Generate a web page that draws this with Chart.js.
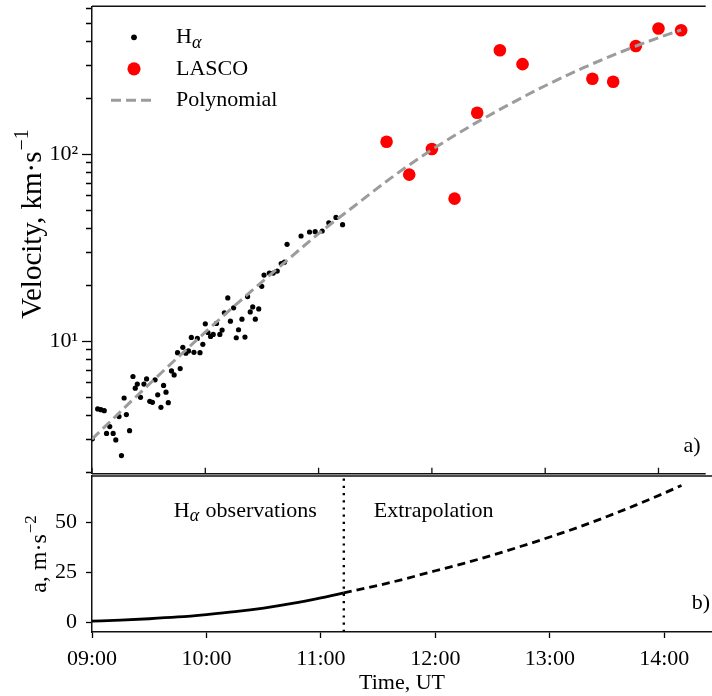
<!DOCTYPE html>
<html>
<head>
<meta charset="utf-8">
<title>Velocity and acceleration</title>
<script src="https://cdn.jsdelivr.net/npm/chart.js@4.4.1/dist/chart.umd.min.js"></script>
<style>
  html, body { margin: 0; padding: 0; background: #fff; }
  #page { position: relative; width: 712px; height: 696px; overflow: hidden; }
  canvas { position: absolute; left: 0; }
  #velChart { top: 0; }
  #accChart { top: 470px; }
</style>
</head>
<body>
<div id="page">
  <canvas id="velChart" width="712" height="480"></canvas>
  <canvas id="accChart" width="712" height="226"></canvas>
</div>
<script>
// time axis: minutes after 09:00 UT
const hourTicks = [0, 60, 120, 180, 240, 300];
const hourLabels = ['09:00', '10:00', '11:00', '12:00', '13:00', '14:00'];
const timeMin = 0, timeMax = 325;

// H-alpha velocities (km/s)
const haTime = [0.2, 3.0, 4.7, 6.5, 7.7, 9.4, 11.2, 12.6, 14.3, 15.6,
    17.0, 18.2, 19.9, 21.7, 22.9, 24.0, 25.7, 27.5, 28.9, 30.6,
    32.0, 33.4, 34.8, 36.5, 37.9, 39.2, 40.4, 42.1, 43.5, 45.3,
    46.7, 48.1, 49.7, 51.1, 52.6, 54.0, 55.8, 57.2, 58.7, 60.0,
    61.4, 62.8, 64.2, 65.9, 67.7, 68.9, 70.1, 71.9, 73.3, 75.0,
    76.4, 77.6, 79.4, 81.0, 82.4, 83.8, 85.1, 86.5, 88.3, 89.9,
    91.1, 93.9, 96.0, 98.1, 100.2, 101.9, 103.3, 110.7, 115.2, 118.2,
    121.9, 125.4, 129.2, 132.7];
const haVel = [3.01, 4.35, 4.31, 4.26, 3.22, 3.50, 3.22, 2.97, 3.96, 2.45,
    4.98, 4.06, 3.33, 6.49, 5.62, 5.91, 5.02, 5.91, 6.30, 4.78,
    4.72, 6.23, 5.18, 4.44, 5.81, 5.35, 4.70, 6.95, 6.62, 8.70,
    7.15, 9.29, 8.64, 8.89, 10.5, 8.74, 10.37, 8.70, 9.64, 12.42,
    11.16, 10.63, 10.90, 12.47, 10.90, 11.49, 14.21, 17.08, 12.83, 15.11,
    10.46, 11.54, 13.15, 10.54, 17.36, 14.38, 15.29, 13.15, 14.92, 19.70,
    22.63, 23.19, 23.19, 23.76, 26.10, 26.53, 33.07, 36.63, 38.47, 38.63,
    38.95, 43.12, 46.04, 42.09];

// LASCO velocities (km/s)
const lascoTime = [156, 168, 180, 192, 204, 216, 228, 265, 276, 288, 300, 312];
const lascoVel = [117, 78, 107, 58, 167, 361, 304, 254, 245, 380, 472, 462];

// polynomial fit (km/s)
const fitTime = [0, 20, 40, 60, 80, 100, 120, 140, 160, 180, 200, 220, 240, 260, 280, 300, 312];
const fitVel = [3.0, 4.7, 7.3, 11.2, 17.0, 25.4, 37.7, 54, 77, 106, 141, 183, 233, 290, 353, 421, 463];

// acceleration (m/s^2), observed part and extrapolation
const splitTime = 132;
const accObsTime = [0, 15, 30, 45, 60, 75, 90, 105, 120, 132];
const accObs = [0.7, 1.2, 1.9, 2.8, 4.0, 5.4, 7.2, 9.5, 12.3, 14.8];
const accExtTime = [132, 150, 165, 180, 195, 210, 225, 240, 255, 270, 285, 300, 309];
const accExt = [14.8, 18.5, 22, 25.8, 29.5, 33.6, 38, 42.6, 47.5, 52.8, 58.5, 64.5, 68.3];

// axis ranges and ticks
const velMin = 1.96, velMax = 620;
const velTicks = [2, 3, 4, 5, 6, 7, 8, 9, 10, 20, 30, 40, 50, 60, 70, 80, 90, 100, 200, 300, 400, 500, 600];
const velMajor = [10, 100];
const velMajorLabels = ['10¹', '10²'];
const accMin = -4.7, accMax = 73;
const accTicks = [0, 25, 50];

// axis titles: [text, superscript]
const velTitle = ['Velocity, km·s', '−1'];
const accTitle = ['a, m·s', '−2'];

const serif = '"Liberation Serif", "Times New Roman", serif';
Chart.defaults.font.family = serif;
Chart.defaults.font.size = 22;
Chart.defaults.color = '#000';

function toXY(xs, ys) {
    return xs.map((x, i) => ({x: x, y: ys[i]}));
}

// no extra room for the first/last tick labels
function noPad(s) {
    s.paddingTop = 0;
    s.paddingBottom = 0;
    s.paddingLeft = 0;
    s.paddingRight = 0;
}

// text with an italic subscript alpha, e.g. "Hα"
function drawAlphaText(ctx, text, x, y, size, align) {
    const k = text.indexOf('α');
    const main = size + 'px ' + serif;
    const sub = 'italic ' + Math.round(size * 0.8) + 'px ' + serif;
    ctx.textBaseline = 'middle';
    ctx.textAlign = 'left';
    let pre = k < 0 ? text : text.slice(0, k);
    let post = k < 0 ? '' : text.slice(k + 1);
    ctx.font = main;
    let w = ctx.measureText(pre).width + ctx.measureText(post).width;
    if (k >= 0) {
        ctx.font = sub;
        w += ctx.measureText('α').width + 1;
    }
    if (align === 'right') x -= w;
    ctx.font = main;
    ctx.fillText(pre, x, y);
    if (k < 0) return;
    x += ctx.measureText(pre).width;
    ctx.font = sub;
    ctx.fillText('α', x, y + size * 0.25);
    x += ctx.measureText('α').width + 1;
    ctx.font = main;
    ctx.fillText(post, x, y);
}

// rotated axis title with a raised exponent
function drawAxisTitle(ctx, parts, cx, cy, size) {
    const main = size + 'px ' + serif;
    const sup = Math.round(size * 0.7) + 'px ' + serif;
    ctx.save();
    ctx.translate(cx, cy);
    ctx.rotate(-Math.PI / 2);
    ctx.fillStyle = '#000';
    ctx.textBaseline = 'middle';
    ctx.textAlign = 'left';
    ctx.font = main;
    const w1 = ctx.measureText(parts[0]).width;
    ctx.font = sup;
    const w2 = ctx.measureText(parts[1]).width;
    const x = -(w1 + w2 + 1) / 2;
    ctx.font = main;
    ctx.fillText(parts[0], x, 0);
    ctx.font = sup;
    ctx.fillText(parts[1], x + w1 + 1, -size * 0.36);
    ctx.restore();
}

// frame lines, inward time ticks, panel letter and y title
const framePlugin = {
    id: 'frame',
    afterDatasetsDraw(chart, args, opts) {
        const ctx = chart.ctx, a = chart.chartArea;
        ctx.save();
        ctx.strokeStyle = '#111';
        ctx.lineWidth = 1.5;
        ctx.beginPath();
        ctx.moveTo(a.left, a.top);
        ctx.lineTo(a.right, a.top);
        if (opts.bottomLine) {
            ctx.moveTo(a.left, a.bottom);
            ctx.lineTo(a.right, a.bottom);
        }
        ctx.stroke();
        if (opts.innerTicks) {
            const xs = chart.scales.x;
            ctx.lineWidth = 1.3;
            ctx.beginPath();
            hourTicks.forEach(t => {
                const px = xs.getPixelForValue(t);
                ctx.moveTo(px, a.bottom);
                ctx.lineTo(px, a.bottom - 6);
            });
            ctx.stroke();
        }
        ctx.fillStyle = '#000';
        ctx.font = '22px ' + serif;
        ctx.textAlign = 'right';
        ctx.textBaseline = 'middle';
        ctx.fillText(opts.panel, a.right - opts.panelDx, a.bottom - opts.panelDy);
        ctx.restore();
        drawAxisTitle(ctx, opts.title, opts.titleX, (a.top + a.bottom) / 2 + opts.titleDy, opts.titleSize);
    }
};

// legend inside the upper panel
const legendPlugin = {
    id: 'innerLegend',
    afterDraw(chart) {
        const ctx = chart.ctx, a = chart.chartArea;
        const cx = a.left + 42;
        ctx.save();
        chart.data.datasets.forEach((ds, i) => {
            const y = a.top + 31 + i * 31.5;
            if (ds.showLine) {
                ctx.strokeStyle = ds.borderColor;
                ctx.lineWidth = ds.borderWidth;
                ctx.setLineDash(ds.borderDash);
                ctx.beginPath();
                ctx.moveTo(cx - 23, y);
                ctx.lineTo(cx + 22, y);
                ctx.stroke();
                ctx.setLineDash([]);
            } else {
                ctx.fillStyle = ds.backgroundColor;
                ctx.beginPath();
                ctx.arc(cx, y, ds.pointRadius + 0.3, 0, Math.PI * 2);
                ctx.fill();
            }
            ctx.fillStyle = '#000';
            drawAlphaText(ctx, ds.label, a.left + 84, y, 22);
        });
        ctx.restore();
    }
};

// region labels in the lower panel
const regionPlugin = {
    id: 'regions',
    afterDraw(chart) {
        const ctx = chart.ctx, a = chart.chartArea;
        const sx = chart.scales.x.getPixelForValue(splitTime);
        ctx.save();
        ctx.fillStyle = '#000';
        drawAlphaText(ctx, 'Hα observations', sx - 27, a.top + 35, 22, 'right');
        drawAlphaText(ctx, 'Extrapolation', sx + 30, a.top + 35, 22);
        ctx.restore();
    }
};

// upper panel: velocity
new Chart(document.getElementById('velChart'), {
    type: 'scatter',
    data: {
        datasets: [{
            label: 'Hα',
            data: toXY(haTime, haVel),
            backgroundColor: '#000',
            pointRadius: 2.6,
            pointBorderWidth: 0,
            showLine: false,
            order: 2
        }, {
            label: 'LASCO',
            data: toXY(lascoTime, lascoVel),
            backgroundColor: '#ff0000',
            pointRadius: 6.3,
            pointBorderWidth: 0,
            showLine: false,
            order: 1
        }, {
            label: 'Polynomial',
            data: toXY(fitTime, fitVel),
            showLine: true,
            borderColor: '#9c9c9c',
            borderWidth: 3,
            borderDash: [10, 5],
            pointRadius: 0,
            cubicInterpolationMode: 'monotone',
            order: 0
        }]
    },
    options: {
        responsive: false,
        animation: false,
        layout: {padding: {top: 6, right: 0, bottom: 4, left: 0}},
        plugins: {
            legend: {display: false},
            tooltip: {enabled: false},
            frame: {
                bottomLine: true, innerTicks: true, panel: 'a)', panelDx: 5, panelDy: 27,
                title: velTitle, titleX: 33, titleDy: -16, titleSize: 29
            }
        },
        scales: {
            x: {
                type: 'linear',
                min: timeMin,
                max: timeMax,
                afterFit: s => { s.height = 0; noPad(s); },
                ticks: {display: false},
                grid: {display: false},
                border: {display: false}
            },
            y: {
                type: 'logarithmic',
                min: velMin,
                max: velMax,
                afterFit: s => { s.width = 92; noPad(s); },
                afterBuildTicks: s => { s.ticks = velTicks.map(v => ({value: v})); },
                ticks: {
                    autoSkip: false,
                    padding: 4,
                    callback: (v) => {
                        const i = velMajor.indexOf(v);
                        return i >= 0 ? velMajorLabels[i] : '';
                    }
                },
                grid: {
                    drawOnChartArea: false,
                    tickLength: 10,
                    tickColor: '#000',
                    tickWidth: 1.3,
                    tickBorderDash: (c) => velMajor.includes(c.tick.value) ? [] : [0, 4, 20, 20]
                },
                border: {display: true, color: '#111', width: 1.5}
            }
        }
    },
    plugins: [framePlugin, legendPlugin]
});

// lower panel: acceleration
new Chart(document.getElementById('accChart'), {
    type: 'scatter',
    data: {
        datasets: [{
            label: 'observed',
            data: toXY(accObsTime, accObs),
            showLine: true,
            borderColor: '#000',
            borderWidth: 2.8,
            pointRadius: 0,
            cubicInterpolationMode: 'monotone'
        }, {
            label: 'extrapolated',
            data: toXY(accExtTime, accExt),
            showLine: true,
            borderColor: '#000',
            borderWidth: 2.8,
            borderDash: [8, 5],
            pointRadius: 0,
            cubicInterpolationMode: 'monotone'
        }, {
            label: 'split',
            data: toXY([splitTime, splitTime], [accMin, accMax]),
            showLine: true,
            borderColor: '#000',
            borderWidth: 2.4,
            borderDash: [2.2, 5],
            pointRadius: 0
        }]
    },
    options: {
        responsive: false,
        animation: false,
        layout: {padding: {top: 6, right: 0, bottom: 0, left: 0}},
        plugins: {
            legend: {display: false},
            tooltip: {enabled: false},
            frame: {
                bottomLine: false, innerTicks: false, panel: 'b)', panelDx: 2, panelDy: 29,
                title: accTitle, titleX: 40, titleDy: 0, titleSize: 24
            }
        },
        scales: {
            x: {
                type: 'linear',
                min: timeMin,
                max: timeMax,
                afterFit: s => { s.height = 64; noPad(s); },
                afterBuildTicks: s => { s.ticks = hourTicks.map(v => ({value: v})); },
                ticks: {
                    autoSkip: false,
                    maxRotation: 0,
                    padding: 8,
                    callback: (v) => hourLabels[hourTicks.indexOf(v)]
                },
                grid: {drawOnChartArea: false, tickLength: 6, tickColor: '#000', tickWidth: 1.3},
                border: {display: true, color: '#111', width: 1.5},
                title: {display: true, text: 'Time, UT', padding: {top: 0, bottom: 0}}
            },
            y: {
                type: 'linear',
                min: accMin,
                max: accMax,
                afterFit: s => { s.width = 92; noPad(s); },
                afterBuildTicks: s => { s.ticks = accTicks.map(v => ({value: v})); },
                ticks: {autoSkip: false, padding: 9},
                grid: {drawOnChartArea: false, tickLength: 6, tickColor: '#000', tickWidth: 1.3},
                border: {display: true, color: '#111', width: 1.5}
            }
        }
    },
    plugins: [framePlugin, regionPlugin]
});
</script>
</body>
</html>
